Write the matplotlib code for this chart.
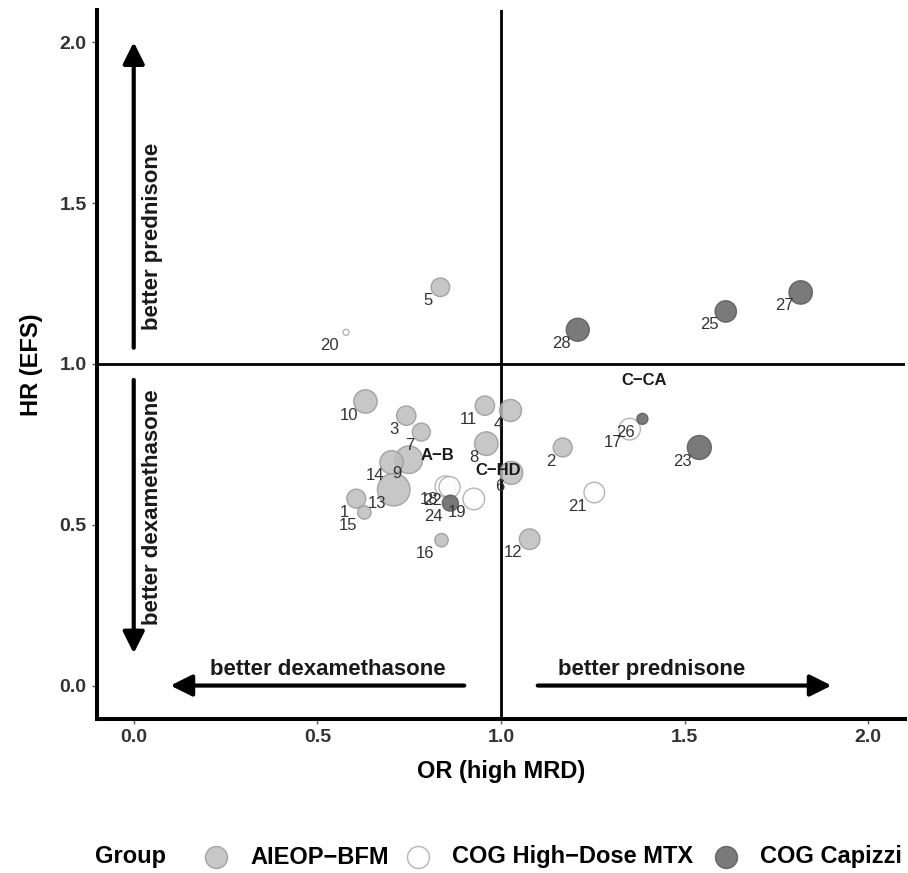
import matplotlib
matplotlib.use("Agg")
import matplotlib.pyplot as plt
from matplotlib.patches import FancyArrowPatch, ArrowStyle
import numpy as np

plt.rcParams["font.family"] = ["Liberation Sans", "DejaVu Sans"]

# Data
study = [str(i) for i in range(1, 29)]
group = (["AIEOP\u2212BFM"] * 16 + ["COG High\u2212Dose MTX"] * 6
         + ["COG Capizzi"] * 6)
or_mrd = [0.606, 1.168, 0.742, 1.026, 0.835, 1.028, 0.783, 0.960, 0.749, 0.631,
          0.956, 1.078, 0.708, 0.702, 0.628, 0.838,
          1.350, 0.849, 0.926, 0.578, 1.254, 0.860,
          1.540, 0.862, 1.612, 1.385, 1.816, 1.209]
hr_efs = [0.581, 0.740, 0.839, 0.855, 1.238, 0.661, 0.788, 0.752, 0.702, 0.883,
          0.870, 0.455, 0.609, 0.694, 0.538, 0.452,
          0.797, 0.619, 0.580, 1.098, 0.600, 0.617,
          0.740, 0.567, 1.163, 0.829, 1.222, 1.106]
# relative study weight (drawn as circle radius)
weight = [9.5, 9.5, 9.7, 11.0, 9.3, 11.5, 9.0, 11.8, 13.8, 11.7,
          9.7, 10.3, 16.3, 11.7, 6.7, 6.7,
          10.8, 10.5, 10.8, 3.0, 10.3, 10.5,
          12.0, 8.0, 10.7, 5.5, 11.7, 11.5]

pooled_name = ["A\u2212B", "C\u2212HD", "C\u2212CA"]
pooled_or = [0.828, 0.991, 1.391]
pooled_hr = [0.714, 0.668, 0.949]

groups = ["AIEOP\u2212BFM", "COG High\u2212Dose MTX", "COG Capizzi"]
fills = {"AIEOP\u2212BFM": "#bdbdbd", "COG High\u2212Dose MTX": "#ffffff",
         "COG Capizzi": "#636363"}
edges = {"AIEOP\u2212BFM": "#9a9a9a", "COG High\u2212Dose MTX": "#a8a8a8",
         "COG Capizzi": "#5a5a5a"}

fig = plt.figure(figsize=(9.08, 8.73), dpi=100)
ax = fig.add_axes([97 / 908, 1 - 719 / 873, 808 / 908, 709 / 873])

# reference lines
ax.axvline(1.0, color="black", lw=2.0, zorder=1)
ax.axhline(1.0, color="black", lw=2.0, zorder=1)

# study points
or_arr = np.array(or_mrd)
hr_arr = np.array(hr_efs)
w_arr = np.array(weight)
g_arr = np.array(group)
for g in groups:
    m = g_arr == g
    ax.scatter(or_arr[m], hr_arr[m], s=(1.44 * w_arr[m]) ** 2, c=fills[g],
               edgecolors=edges[g], linewidths=1.0, alpha=0.85, zorder=3)

for lab, x, y in zip(study, or_mrd, hr_efs):
    ax.text(x - 0.02, y - 0.042, lab, ha="right", va="center",
            fontsize=12, color="#333333", zorder=4)

for lab, x, y in zip(pooled_name, pooled_or, pooled_hr):
    ax.text(x, y, lab, ha="center", va="center", fontsize=12,
            fontweight="bold", color="#1a1a1a", zorder=5)

# direction arrows
arrows = [((0.0, 1.05), (0.0, 2.0)), ((0.0, 0.95), (0.0, 0.1)),
          ((0.9, 0.0), (0.1, 0.0)), ((1.1, 0.0), (1.9, 0.0))]
for a, b in arrows:
    ax.add_patch(FancyArrowPatch(a, b, arrowstyle=ArrowStyle("-|>", head_length=13, head_width=6.5),
                                 mutation_scale=1, lw=3.0, color="black",
                                 shrinkA=0, shrinkB=0, zorder=2))

ax.text(0.05, 1.395, "better prednisone", rotation=90, ha="center", va="center",
        fontsize=16, fontweight="bold", color="#1a1a1a")
ax.text(0.05, 0.555, "better dexamethasone", rotation=90, ha="center", va="center",
        fontsize=16, fontweight="bold", color="#1a1a1a")
ax.text(0.528, 0.05, "better dexamethasone", ha="center", va="center",
        fontsize=16, fontweight="bold", color="#1a1a1a")
ax.text(1.41, 0.05, "better prednisone", ha="center", va="center",
        fontsize=16, fontweight="bold", color="#1a1a1a")

ax.set_xlim(-0.1, 2.1)
ax.set_ylim(-0.104, 2.1)
ax.set_xticks([0.0, 0.5, 1.0, 1.5, 2.0])
ax.set_yticks([0.0, 0.5, 1.0, 1.5, 2.0])
ax.set_xticklabels(["0.0", "0.5", "1.0", "1.5", "2.0"])
ax.set_yticklabels(["0.0", "0.5", "1.0", "1.5", "2.0"])
ax.tick_params(length=3.5, width=1.0, color="#555555", labelsize=14,
               labelcolor="#333333", pad=4)
for t in ax.get_xticklabels() + ax.get_yticklabels():
    t.set_fontweight("bold")

for s in ["top", "right"]:
    ax.spines[s].set_visible(False)
for s in ["left", "bottom"]:
    ax.spines[s].set_linewidth(2.9)
    ax.spines[s].set_color("black")

ax.set_xlabel("OR (high MRD)", fontsize=17, fontweight="bold", labelpad=10)
ax.set_ylabel("HR (EFS)", fontsize=17, fontweight="bold", labelpad=12)

# legend at the bottom, laid out by hand
lax = fig.add_axes([0, 0, 1, 1])
lax.set_xlim(0, 908)
lax.set_ylim(873, 0)
lax.axis("off")
lax.text(95, 857, "Group", ha="left", va="center", fontsize=17, fontweight="bold")
leg_marker_x = [216, 418, 726]
leg_text_x = [250, 452, 760]
for g, mx, tx in zip(groups, leg_marker_x, leg_text_x):
    lax.scatter([mx], [857], s=(1.44 * 11) ** 2, c=fills[g], edgecolors=edges[g],
                linewidths=1.0, alpha=0.85)
    lax.text(tx, 857, g, ha="left", va="center", fontsize=17, fontweight="bold")

fig.savefig("out.png", dpi=100)
